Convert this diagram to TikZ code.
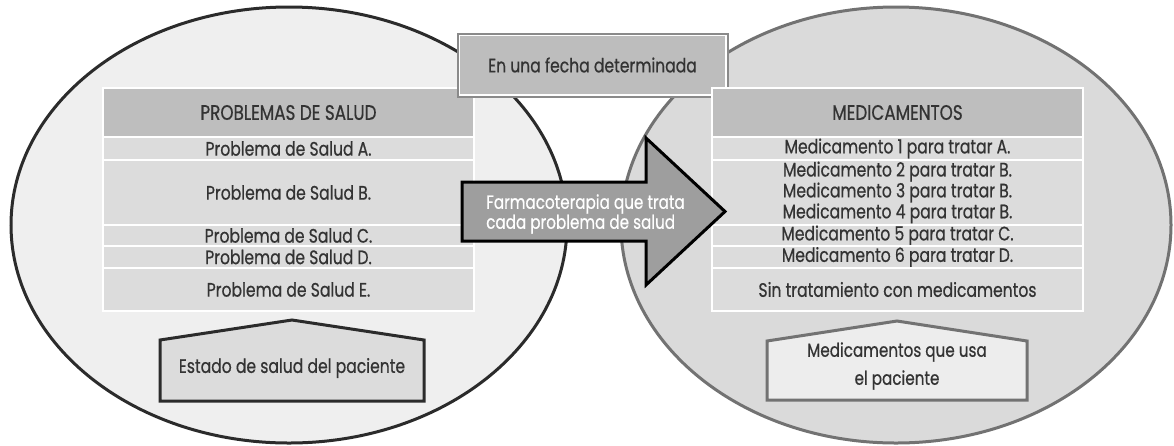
\documentclass[tikz,border=0pt]{standalone}
\usepackage{fontspec}
\setmainfont{Poppins}[FakeStretch=0.8,UprightFeatures={FakeBold=0.6}]
\usetikzlibrary{shapes.geometric}
\definecolor{txt}{HTML}{333333}
\definecolor{lfill}{HTML}{EFEFEF}
\definecolor{ldark}{HTML}{2B2B2B}
\definecolor{rfill}{HTML}{DADADA}
\definecolor{rline}{HTML}{727272}
\definecolor{hdrgray}{HTML}{BEBEBE}
\definecolor{rowgray}{HTML}{DCDCDC}
\definecolor{boxfill}{HTML}{BDBDBD}
\definecolor{boxline}{HTML}{8A8A8A}
\definecolor{arrowfill}{HTML}{9E9E9E}
\definecolor{rpfill}{HTML}{EDEDED}
\begin{document}
\begin{tikzpicture}[x=1pt,y=-1pt,
  ell/.style={ellipse, inner sep=0pt, line width=3pt},
  row/.style={rectangle, draw=white, line width=1.8pt, fill=rowgray, minimum width=371pt, inner sep=0pt, font=\fontsize{19.5}{17.5}\selectfont, text=txt, align=center},
  hdr/.style={row, fill=hdrgray, font=\fontsize{21}{22}\selectfont},
  pent/.style={line width=3pt, line join=miter},
  lbl/.style={text=txt, inner sep=0pt, align=center}
]
\useasboundingbox (0,0) rectangle (1174,445);
% ellipses
\node[ell, draw=ldark, fill=lfill, minimum width=556pt, minimum height=436pt] (lell) at (289,225) {};
\node[ell, draw=rline, fill=rfill, minimum width=550pt, minimum height=436pt] (rell) at (896,225) {};
% left table
\node[hdr, minimum height=49pt] (lh) at (288.5,112.5) {PROBLEMAS DE SALUD};
\node[row, minimum height=23pt] (la) at (288.5,148.5) {Problema de Salud A.};
\node[row, minimum height=65pt] (lb) at (288.5,192.5) {Problema de Salud B.};
\node[row, minimum height=21pt] (lc) at (288.5,235.5) {Problema de Salud C.};
\node[row, minimum height=22pt] (ld) at (288.5,257) {Problema de Salud D.};
\node[row, minimum height=43pt] (le) at (288.5,289.5) {Problema de Salud E.};
% date box
\node[draw=boxline, line width=2pt, fill=boxfill, minimum width=270pt, minimum height=63pt, text=txt, font=\fontsize{19.5}{20}\selectfont] (fecha) at (592.5,65) {En una fecha determinada};
\draw[white, line width=1.2pt] ([shift={(2.6pt,2.6pt)}]fecha.south west) rectangle ([shift={(-2.6pt,-2.6pt)}]fecha.north east);
% right table
\node[hdr, minimum height=49pt] (rh) at (897.5,112.5) {MEDICAMENTOS};
\node[row, minimum height=23pt] (ra) at (897.5,148.5) {Medicamento 1 para tratar A.};
\node[row, minimum height=65pt] (rb) at (897.5,192.5) {Medicamento 2 para tratar B.\\Medicamento 3 para tratar B.\\Medicamento 4 para tratar B.};
\node[row, minimum height=21pt] (rc) at (897.5,235.5) {Medicamento 5 para tratar C.};
\node[row, minimum height=22pt] (rd) at (897.5,257) {Medicamento 6 para tratar D.};
\node[row, minimum height=43pt] (re) at (897.5,289.5) {Sin tratamiento con medicamentos};
% arrow
\draw[fill=arrowfill, line width=3pt, line join=miter] (462,182) -- (646,182) -- (646,138) -- (725,211.5) -- (646,285) -- (646,241) -- (462,241) -- cycle;
\node[text=white, align=left, anchor=west, inner sep=0pt, font=\fontsize{19}{20}\selectfont] (farma) at (486,214) {Farmacoterapia que trata\\cada problema de salud};
% bottom pentagons
\draw[pent, fill=rowgray, draw=ldark] (160,401) -- (160,340) -- (292,320) -- (424,340) -- (424,401) -- cycle;
\node[lbl, font=\fontsize{19.5}{20}\selectfont] (estado) at (292,368) {Estado de salud del paciente};
\draw[pent, fill=rpfill, draw=rline] (767,400) -- (767,341) -- (897,321) -- (1027,341) -- (1027,400) -- cycle;
\node[lbl, font=\fontsize{19}{28}\selectfont] (usa) at (897,366) {Medicamentos que usa\\el paciente};
\end{tikzpicture}
\end{document}
